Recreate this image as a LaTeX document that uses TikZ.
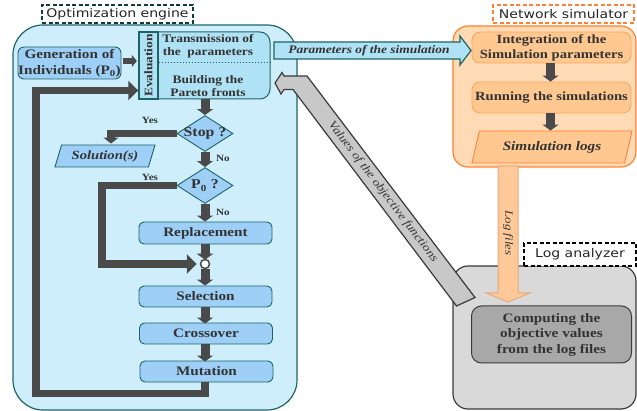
\documentclass[tikz,border=0pt]{standalone}
\usepackage{fontspec}
\setmainfont{Liberation Serif}[FakeStretch=1.17]
\newfontfamily\labfont{DejaVu Sans}[FakeStretch=1.17]
\usetikzlibrary{shapes.geometric,arrows.meta,calc}
\definecolor{bgblue}{HTML}{CFEEFC}
\definecolor{tealb}{HTML}{1E6464}
\definecolor{boxblue}{HTML}{9ECFF7}
\definecolor{evalfill}{HTML}{B0E2F5}
\definecolor{orbg}{HTML}{FFDBB5}
\definecolor{orbd}{HTML}{FF8030}
\definecolor{oboxf}{HTML}{FFC890}
\definecolor{oboxd}{HTML}{F7A860}
\definecolor{logf}{HTML}{FFC99A}
\definecolor{logd}{HTML}{E8A878}
\definecolor{graybg}{HTML}{D9D9D9}
\definecolor{grayd}{HTML}{3A3A3A}
\definecolor{compf}{HTML}{A8A8A8}
\definecolor{diagf}{HTML}{C8C8C8}
\definecolor{dkg}{HTML}{4A4A4A}
\definecolor{txt}{HTML}{333333}
\tikzset{
 bbox/.style={draw=tealb, fill=boxblue, line width=0.9pt, rounded corners=5pt, inner sep=0pt, font=\bfseries\fontsize{13}{15}\selectfont, text=txt, align=center},
 obox/.style={draw=oboxd, fill=oboxf, line width=0.9pt, rounded corners=8pt, inner sep=0pt, font=\bfseries\fontsize{12.5}{15}\selectfont, text=txt, align=center},
 darr/.style={draw=dkg, line width=9pt, -{Triangle[length=6pt,width=16pt]}},
 sarr/.style={draw=dkg, line width=6pt, -{Triangle[length=5pt,width=12pt]}},
 loopl/.style={draw=dkg, line width=7.5pt, -{Triangle[length=10pt,width=19pt]}},
 yarr/.style={draw=dkg, line width=7.5pt, -{Triangle[length=6pt,width=15pt]}},
 yn/.style={font=\bfseries\fontsize{9.5}{10}\selectfont, text=txt, inner sep=0pt},
 dlabel/.style={draw, dash pattern=on 4pt off 2.5pt, line width=1.5pt, fill=white, inner sep=0pt, font=\labfont\fontsize{12}{13}\selectfont, text=black!85},
 dia/.style={diamond, draw=tealb, fill=boxblue, line width=0.9pt, minimum width=56pt, minimum height=36pt, inner sep=0pt},
 diat/.style={font=\bfseries\fontsize{13.5}{14}\selectfont, text=txt, inner sep=0pt},
 para/.style={trapezium, trapezium stretches body, inner sep=0pt, line width=0.9pt},
}
\begin{document}
\begin{tikzpicture}[x=1pt,y=-1pt]
\useasboundingbox (0,0) rectangle (637,411);
% ---------- backgrounds
\node[draw=tealb, fill=bgblue, line width=1.2pt, rounded corners=30pt, minimum width=284pt, minimum height=385pt] (optbg) at (155,217.5) {};
\node[draw=orbd, fill=orbg, line width=1.2pt, rounded corners=15pt, minimum width=183pt, minimum height=141pt] (netbg) at (544.5,96.5) {};
\node[draw=grayd, fill=graybg, line width=1.2pt, rounded corners=15pt, minimum width=183pt, minimum height=143pt] (logbg) at (544.5,337.5) {};
% ---------- labels
\node[dlabel, draw=tealb!60!black, minimum width=151pt, minimum height=18pt] (optl) at (117.5,14) {Optimization engine};
\node[dlabel, draw=orbd, minimum width=141pt, minimum height=18pt] (netl) at (563.5,14) {Network simulator};
\node[dlabel, draw=black, minimum width=112pt, minimum height=23pt] (logl) at (580,254.5) {Log analyzer};
% ---------- optimization engine
\node[bbox, rounded corners=6pt, minimum width=103pt, minimum height=32pt] (gen) at (69.5,63) {};
\node[font=\bfseries\fontsize{13}{16}\selectfont, text=txt, align=center, inner sep=0pt] (gent) at (gen) {Generation of\\Individuals (P\textsubscript{0})};
\node[draw=tealb, fill=evalfill, line width=1pt, rounded corners=10pt, minimum width=131pt, minimum height=67pt] (evalbox) at (204.5,65.5) {};
\node[draw=tealb, fill=evalfill, line width=1.4pt, minimum width=19pt, minimum height=67pt, inner sep=0pt] (evstrip) at (148.5,65.5) {};
\node[rotate=90, font=\bfseries\fontsize{11.5}{12}\selectfont, text=txt, inner sep=0pt] (evlbl) at (evstrip) {Evaluation};
\draw[tealb, dotted, line width=1pt] (evstrip.east |- 0,63) -- (evalbox.east |- 0,63);
\node[font=\bfseries\fontsize{11.5}{13}\selectfont, text=txt, align=center, inner sep=0pt] (trans) at (208,46.5) {Transmission of\\the~~parameters};
\node[font=\bfseries\fontsize{11.5}{13}\selectfont, text=txt, align=center, inner sep=0pt] (build) at (208,86) {Building the\\Pareto fronts};
\node[dia] (stop) at (205,133.5) {};
\node[diat] (stopt) at (stop) {Stop ?};
\node[para, trapezium left angle=60, trapezium right angle=120, draw=tealb, fill=boxblue, minimum width=100pt, minimum height=22pt, font=\bfseries\itshape\fontsize{12.5}{13}\selectfont, text=txt] (sol) at (105,156) {Solution(s)};
\node[dia] (p0) at (205,185.5) {};
\node[diat] (p0t) at (p0) {P\textsubscript{0} ?};
\node[bbox, minimum width=133pt, minimum height=22pt] (rep) at (205.5,233) {Replacement};
\node[circle, draw=dkg, fill=white, line width=1.5pt, minimum size=9pt, inner sep=0pt] (circ) at (205,264) {};
\node[bbox, minimum width=133pt, minimum height=21pt] (sel) at (205.5,296.5) {Selection};
\node[bbox, minimum width=133pt, minimum height=21pt] (cro) at (206,333.5) {Crossover};
\node[bbox, minimum width=133pt, minimum height=21pt] (mut) at (206.5,371.5) {Mutation};
\node[yn] (yes1) at (150,120) {Yes};
\node[yn] (no1) at (223,158) {No};
\node[yn] (yes2) at (150,177) {Yes};
\node[yn] (no2) at (223,212.5) {No};
% arrows in the engine
\draw[sarr] (gen.east) ++(1.5,-2) -- ($(evstrip.west |- gen.east)+(-1.5,-2)$);
\draw[darr] (stop.north |- evalbox.south) -- (stop.north);
\draw[darr] (stop.south) -- (p0.north);
\draw[darr] (p0.south) -- (rep.north -| p0.south);
\draw[darr] (rep.south -| circ.north) -- ([yshift=-1pt]circ.north);
\draw[darr] (circ.south) -- (sel.north -| circ.south);
\draw[darr] (sel.south -| circ.south) -- ([yshift=-1pt]cro.north -| circ.south);
\draw[darr] (cro.south -| circ.south) -- ([yshift=-1pt]mut.north -| circ.south);
\draw[yarr] (stop.west) -| ($(sol.north)+(6,-1)$);
\draw[loopl, shorten >=3pt] (p0.west) -| (102,264) -- (circ.west);
\draw[loopl] (mut.south -| circ.south) -- (circ.south |- 0,393.5) -- (36,393.5) -- (36,90.5) -- (evstrip.west |- 0,90.5);
% ---------- network simulator
\node[obox, minimum width=159pt, minimum height=31pt] (integ) at (551.5,47.5) {Integration of the\\Simulation parameters};
\node[obox, minimum width=159pt, minimum height=31pt] (run) at (551.5,97.5) {Running the simulations};
\node[para, trapezium left angle=58, trapezium right angle=122, draw=orbd, fill=oboxf, minimum width=160pt, minimum height=32pt, font=\bfseries\itshape\fontsize{13}{14}\selectfont, text=txt] (slogs) at (552,147) {Simulation logs};
\draw[darr] (integ.south -| 550.5,0) -- (run.north -| 550.5,0);
\draw[darr] (run.south -| 550.5,0) -- (slogs.north -| 550.5,0);
% ---------- log analyzer
\node[draw=grayd, fill=compf, line width=1pt, rounded corners=10pt, minimum width=160pt, minimum height=57pt, inner sep=0pt, font=\bfseries\fontsize{13}{15.5}\selectfont, text=txt, align=center] (comp) at (551.5,334.5) {Computing the\\objective values\\from the log files};
% ---------- block arrows
\draw[fill=evalfill, draw=tealb, line width=1.2pt, line join=miter] (274,42) -- (460,42) -- (460,36) -- (471,50.5) -- (460,65) -- (460,59) -- (274,59) -- cycle;
\node[font=\bfseries\itshape\fontsize{11.5}{12}\selectfont, text=txt, inner sep=0pt] (ptxt) at (369,51) {Parameters of the simulation};
\draw[fill=logf, draw=logd, line width=1pt] (498,166) -- (518,166) -- (518,293) -- (529.5,293) -- (508,302) -- (486.5,293) -- (498,293) -- cycle;
\node[rotate=-90, font=\itshape\fontsize{11}{12}\selectfont, text=txt, inner sep=0pt] (ltxt) at (508,233) {Log files};
\draw[fill=diagf, draw=grayd, line width=1.2pt, line join=miter] (275,83) -- (282,72.5) -- (284,76) -- (307,76) -- (475,297.5) -- (456.5,306) -- (293,89.5) -- (284,89.5) -- (281,94) -- cycle;
\node[rotate=-52.8, font=\itshape\fontsize{11.5}{12}\selectfont, text=txt, inner sep=0pt] (vtxt) at (383,192) {Values of the objective functions};
\end{tikzpicture}
\end{document}
